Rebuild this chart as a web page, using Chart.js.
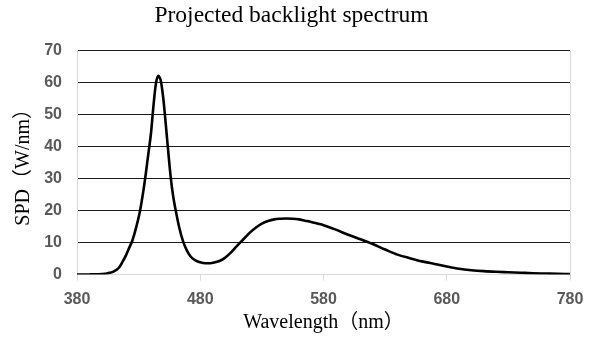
<!DOCTYPE html>
<html>
<head>
<meta charset="utf-8">
<title>Projected backlight spectrum</title>
<script src="https://cdn.jsdelivr.net/npm/chart.js@4.4.1/dist/chart.umd.min.js"></script>
<style>
    html, body { margin: 0; padding: 0; background: #fff; }
    #wrap { width: 595px; height: 339px; }
</style>
</head>
<body>
<div id="wrap"><canvas id="chart" width="595" height="339"></canvas></div>
<script>
// Wavelength (nm) and spectral power (W/nm)
const wavelengths = [
    380, 390, 395, 400, 405, 410, 414, 417, 420, 422, 425, 428, 431, 434, 436,
    438, 440, 442, 444, 446, 447, 448, 450, 452, 454, 456, 458, 460, 463, 466,
    469, 472, 476, 480, 484, 488, 492, 496, 500, 505, 510, 515, 520, 525, 530,
    535, 540, 545, 550, 555, 560, 565, 570, 575, 580, 590, 600, 610, 620, 630,
    640, 650, 660, 670, 680, 690, 700, 710, 720, 730, 740, 750, 760, 770, 780
];
const spdValues = [
    0, 0.02, 0.05, 0.15, 0.4, 1.0, 2.1, 4.0, 6.2, 8.0, 10.7, 14.7, 19.6, 26.5, 32,
    38, 44, 52.5, 59.5, 62, 61.5, 60.5, 55, 47, 38.5, 30.5, 24.5, 20.2, 14.6, 10.4,
    7.6, 5.7, 4.4, 3.8, 3.5, 3.5, 3.8, 4.3, 5.2, 6.9, 9.0, 11.0, 13.0, 14.6, 15.9,
    16.7, 17.2, 17.4, 17.5, 17.4, 17.2, 16.8, 16.4, 15.9, 15.4, 14.0, 12.4, 11.0, 9.5, 7.8,
    6.2, 5.1, 4.1, 3.3, 2.5, 1.8, 1.35, 1.05, 0.85, 0.7, 0.55, 0.4, 0.3, 0.2, 0.15
];
const xTicks = [380, 480, 580, 680, 780];
const yTicks = [0, 10, 20, 30, 40, 50, 60, 70];

document.addEventListener('DOMContentLoaded', () => {
    const ctx = document.getElementById('chart').getContext('2d');
    const points = wavelengths.map((w, i) => ({ x: w, y: spdValues[i] }));

    const tickFont = { family: '"Liberation Sans", Arial, sans-serif', size: 16, weight: 'bold' };
    const serif = '"Liberation Serif", "Noto Sans CJK SC", serif';

    new Chart(ctx, {
        type: 'line',
        data: {
            datasets: [{
                label: 'SPD',
                data: points,
                borderColor: '#000',
                borderWidth: 2.6,
                pointRadius: 0,
                fill: false,
                cubicInterpolationMode: 'monotone'
            }]
        },
        options: {
            responsive: false,
            animation: false,
            layout: { padding: { left: 0, right: 12, top: 0, bottom: 0 } },
            plugins: {
                legend: { display: false },
                tooltip: { enabled: false },
                title: {
                    display: true,
                    text: 'Projected backlight spectrum',
                    color: '#000',
                    font: { family: serif, size: 23.5, weight: 'normal' },
                    padding: { top: 2, bottom: 20 }
                }
            },
            scales: {
                x: {
                    type: 'linear',
                    min: 380,
                    max: 780,
                    afterBuildTicks: scale => {
                        scale.ticks = xTicks.map(v => ({ value: v }));
                    },
                    afterFit: scale => { scale.height = 64.5; },
                    grid: {
                        // only the right-hand border of the plot, plus small tick marks
                        color: c => (c.tick && c.tick.value === 780 ? '#d9d9d9' : 'rgba(0,0,0,0)'),
                        tickColor: '#d9d9d9',
                        tickLength: 6
                    },
                    border: { color: '#d9d9d9', width: 1 },
                    ticks: { color: '#595959', font: tickFont, padding: 9, maxRotation: 0 },
                    title: {
                        display: true,
                        text: 'Wavelength（nm）',
                        color: '#000',
                        font: { family: serif, size: 20, weight: 'normal' },
                        padding: { top: 0, bottom: 4 }
                    }
                },
                y: {
                    min: 0,
                    max: 70,
                    afterBuildTicks: scale => {
                        scale.ticks = yTicks.map(v => ({ value: v }));
                    },
                    afterFit: scale => { scale.width = 77; },
                    grid: {
                        color: c => (c.tick && c.tick.value === 0 ? 'rgba(0,0,0,0)' : '#1a1a1a'),
                        drawTicks: false
                    },
                    border: { color: '#d9d9d9', width: 1 },
                    ticks: { color: '#595959', font: tickFont, padding: 15 },
                    title: {
                        display: true,
                        text: 'SPD（W/nm）',
                        color: '#000',
                        font: { family: serif, size: 20, weight: 'normal' },
                        padding: { top: 12, bottom: 0 }
                    }
                },
                // empty strip on the right so the title sits where the reference has it
                yRight: {
                    position: 'right',
                    min: 0,
                    max: 70,
                    afterFit: scale => { scale.width = 13; },
                    grid: { display: false },
                    border: { display: false },
                    ticks: { display: false }
                }
            }
        }
    });
});
</script>
</body>
</html>
